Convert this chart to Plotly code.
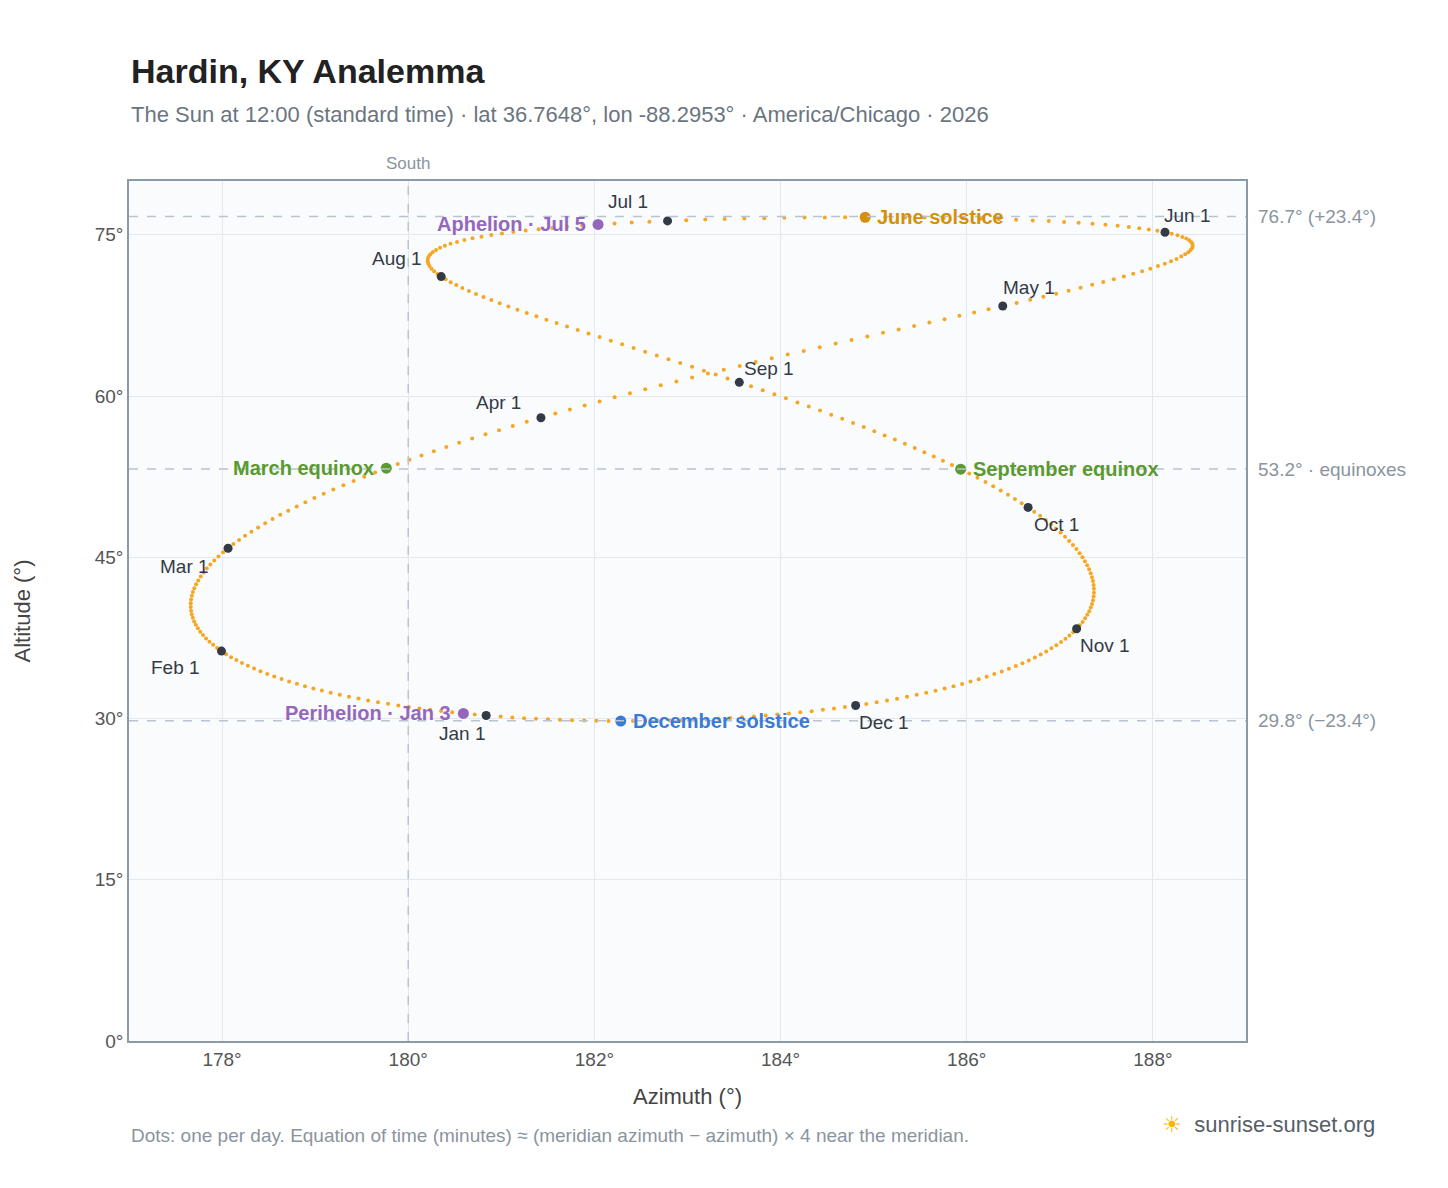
import math, datetime
import plotly.graph_objects as go

LAT, LON, UTC_OFF = 36.7648, -88.2953, -6
YEAR = 2026
month_labels = ["Jan 1","Feb 1","Mar 1","Apr 1","May 1","Jun 1","Jul 1","Aug 1","Sep 1","Oct 1","Nov 1","Dec 1"]
month_label_shift = [(-24,-18),(-46,-16),(-44,-18),(-42,15),(26,19),(22,17),(-40,19),(-44,18),(30,14),(28,-17),(28,-17),(28,-17)]
events = ["March equinox","June solstice","September equinox","December solstice","Perihelion · Jan 3","Aphelion · Jul 5"]
event_dates = [(3,20),(6,21),(9,22),(12,21),(1,3),(7,5)]
event_colors = ["#5a9a2e","#d4900a","#5a9a2e","#3a7bd5","#9467bd","#9467bd"]
event_side = ["left","right","right","right","left","left"]
guide_alt = [76.7, 53.2, 29.8]
guide_text = ["76.7° (+23.4°)","53.2° · equinoxes","29.8° (−23.4°)"]
x_ticks = [178, 180, 182, 184, 186, 188]
y_ticks = [0, 15, 30, 45, 60, 75]

def sunpos(date):
    utc = datetime.datetime(date.year, date.month, date.day, 12 - UTC_OFF)
    jd = (utc - datetime.datetime(2000,1,1,12)).total_seconds()/86400.0
    g = math.radians((357.529 + 0.98560028*jd) % 360)
    q = (280.459 + 0.98564736*jd) % 360
    L = math.radians(q + 1.915*math.sin(g) + 0.020*math.sin(2*g))
    e = math.radians(23.439 - 0.00000036*jd)
    ra = math.degrees(math.atan2(math.cos(e)*math.sin(L), math.cos(L)))
    dec = math.asin(math.sin(e)*math.sin(L))
    gmst = (18.697374558 + 24.06570982441908*jd) % 24
    ha = math.radians((gmst*15 + LON - ra) % 360)
    lat = math.radians(LAT)
    alt = math.asin(math.sin(lat)*math.sin(dec) + math.cos(lat)*math.cos(dec)*math.cos(ha))
    az = math.degrees(math.atan2(math.sin(ha), math.cos(ha)*math.sin(lat) - math.tan(dec)*math.cos(lat))) + 180
    return az % 360, math.degrees(alt)

days = [datetime.date(YEAR,1,1) + datetime.timedelta(i) for i in range(365)]
pts = [sunpos(d) for d in days]
fig = go.Figure()
fig.add_trace(go.Scatter(x=[p[0] for p in pts], y=[p[1] for p in pts], mode="markers",
    marker=dict(size=4, color="#f5a623"), hoverinfo="skip"))
mp = [sunpos(datetime.date(YEAR,m,1)) for m in range(1,13)]
fig.add_trace(go.Scatter(x=[p[0] for p in mp], y=[p[1] for p in mp], mode="markers",
    marker=dict(size=9, color="#333a45")))
ann = []
for lab, p, (dx, dy) in zip(month_labels, mp, month_label_shift):
    ann.append(dict(x=p[0], y=p[1], text=lab, showarrow=False, xshift=dx, yshift=dy,
        font=dict(size=19, color="#333a45")))
ep = [sunpos(datetime.date(YEAR,m,d)) for m,d in event_dates]
fig.add_trace(go.Scatter(x=[p[0] for p in ep], y=[p[1] for p in ep], mode="markers",
    marker=dict(size=11, color=event_colors)))
for lab, p, c, s in zip(events, ep, event_colors, event_side):
    ann.append(dict(x=p[0], y=p[1], text="<b>"+lab+"</b>", showarrow=False,
        xanchor="right" if s=="left" else "left", xshift=-10 if s=="left" else 10,
        font=dict(size=20, color=c)))
shapes = [dict(type="line", xref="paper", x0=0, x1=1, y0=a, y1=a,
    line=dict(color="#b8c4cf", width=1.5, dash="dash")) for a in guide_alt]
shapes.append(dict(type="line", yref="paper", x0=180, x1=180, y0=0, y1=1,
    line=dict(color="#b8c4cf", width=1.5, dash="dash")))
for a, t in zip(guide_alt, guide_text):
    ann.append(dict(xref="paper", x=1, y=a, text=t, showarrow=False, xanchor="left", xshift=10,
        font=dict(size=19, color="#8a949e")))
ann.append(dict(x=180, yref="paper", y=1, text="South", showarrow=False, yanchor="bottom", yshift=6,
    font=dict(size=17, color="#8a949e")))
ann.append(dict(xref="paper", yref="paper", x=0, y=-0.095, xanchor="left", yanchor="top", showarrow=False,
    text="Dots: one per day. Equation of time (minutes) ≈ (meridian azimuth − azimuth) × 4 near the meridian.",
    font=dict(size=19, color="#8a949e")))
ann.append(dict(xref="paper", yref="paper", x=1.117, y=-0.08, xanchor="right", yanchor="top", showarrow=False,
    text="<span style='color:#f5b800'>☀</span>  sunrise-sunset.org", font=dict(size=22, color="#555e68")))
ann.append(dict(xref="paper", yref="paper", x=0, y=1.103, xanchor="left", yanchor="bottom", showarrow=False,
    text="<b>Hardin, KY Analemma</b>", font=dict(size=34, color="#222")))
ann.append(dict(xref="paper", yref="paper", x=0, y=1.06, xanchor="left", yanchor="bottom", showarrow=False,
    text="The Sun at 12:00 (standard time) · lat 36.7648°, lon -88.2953° · America/Chicago · 2026",
    font=dict(size=22, color="#6b7580")))
fig.update_layout(
    width=1448, height=1188, margin=dict(l=121, r=210, t=173, b=155),
    paper_bgcolor="white", plot_bgcolor="#f9fbfd", showlegend=False,
    font=dict(family="Liberation Sans, Arial, sans-serif", color="#444"),
    xaxis=dict(range=[177, 189], tickvals=x_ticks, ticktext=[f"{v}°" for v in x_ticks],
        title=dict(text="Azimuth (°)", font=dict(size=22), standoff=20),
        showgrid=True, gridcolor="#e3e8ee", zeroline=False, showline=True, linecolor="#8a9aa8", mirror=True, linewidth=1.5,
        tickfont=dict(size=19, color="#555")),
    yaxis=dict(range=[0, 80], tickvals=y_ticks, ticktext=[f"{v}°" for v in y_ticks],
        title=dict(text="Altitude (°)", font=dict(size=22), standoff=58),
        showgrid=True, gridcolor="#e3e8ee", zeroline=False, showline=True, linecolor="#8a9aa8", mirror=True, linewidth=1.5,
        tickfont=dict(size=19, color="#555")),
    shapes=shapes, annotations=ann)
fig.write_html("out.html")
